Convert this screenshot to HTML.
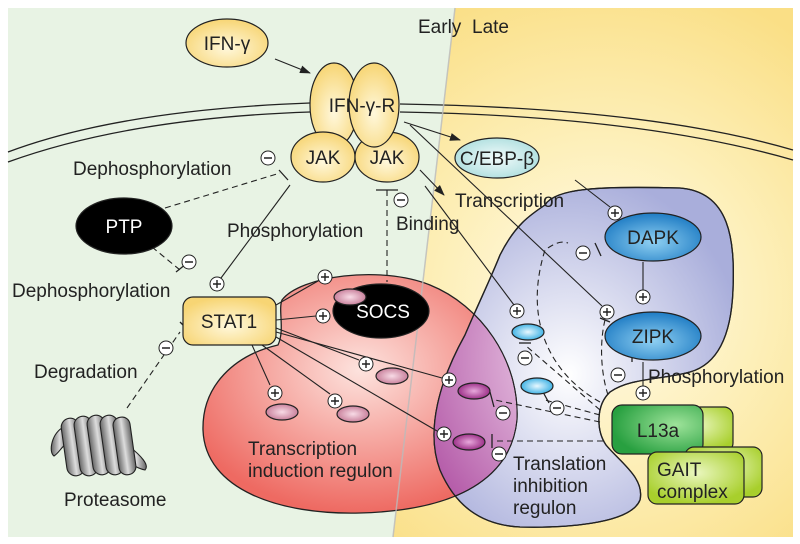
<!DOCTYPE html>
<html><head><meta charset="utf-8"><style>
body{margin:0;background:#fff}
svg{display:block;font-family:"Liberation Sans",sans-serif}
</style></head><body>
<svg width="800" height="544" viewBox="0 0 800 544" xmlns="http://www.w3.org/2000/svg">
<defs>
<radialGradient id="yel" cx="600" cy="300" r="330" gradientUnits="userSpaceOnUse"><stop offset="0" stop-color="#fffcec"/><stop offset="0.5" stop-color="#fdefb8"/><stop offset="1" stop-color="#fadf86"/></radialGradient>
<radialGradient id="red" cx="0.5" cy="0.4" r="0.6"><stop offset="0" stop-color="#fde3de"/><stop offset="1" stop-color="#ee6a62"/></radialGradient>
<radialGradient id="pur" cx="0.45" cy="0.55" r="0.6"><stop offset="0" stop-color="#ffffff"/><stop offset="1" stop-color="#a9aedb"/></radialGradient>
<radialGradient id="mag" cx="0.5" cy="0.5" r="0.6"><stop offset="0" stop-color="#f6e2f3"/><stop offset="1" stop-color="#b45aa8"/></radialGradient>
<radialGradient id="yel2" cx="0.5" cy="0.6" r="0.6"><stop offset="0" stop-color="#fff8dc"/><stop offset="1" stop-color="#f7d574"/></radialGradient>
<radialGradient id="blue" cx="0.5" cy="0.6" r="0.6"><stop offset="0" stop-color="#8fd0f2"/><stop offset="1" stop-color="#1f7cc4"/></radialGradient>
<radialGradient id="cyan" cx="0.5" cy="0.5" r="0.6"><stop offset="0" stop-color="#e8f8ff"/><stop offset="1" stop-color="#22a6e0"/></radialGradient>
<radialGradient id="pink" cx="0.5" cy="0.5" r="0.6"><stop offset="0" stop-color="#f8dbe6"/><stop offset="1" stop-color="#c0708e"/></radialGradient>
<radialGradient id="dmag" cx="0.5" cy="0.5" r="0.6"><stop offset="0" stop-color="#e8a8dc"/><stop offset="1" stop-color="#8e1a78"/></radialGradient>
<radialGradient id="teal" cx="0.5" cy="0.5" r="0.6"><stop offset="0" stop-color="#f2fbfb"/><stop offset="1" stop-color="#a8dcdc"/></radialGradient>
<radialGradient id="grn" cx="0.7" cy="0.4" r="0.7"><stop offset="0" stop-color="#9ee39a"/><stop offset="1" stop-color="#28a040"/></radialGradient>
<radialGradient id="lg" cx="0.5" cy="0.4" r="0.6"><stop offset="0" stop-color="#eaf7c0"/><stop offset="1" stop-color="#a8cf2c"/></radialGradient>
<linearGradient id="gray" x1="0" x2="1"><stop offset="0" stop-color="#666"/><stop offset="0.5" stop-color="#ddd"/><stop offset="1" stop-color="#666"/></linearGradient>
<marker id="ar" markerWidth="11" markerHeight="8" refX="10" refY="4" orient="auto" markerUnits="userSpaceOnUse"><path d="M0,0 L11,4 L0,8 z" fill="#222"/></marker>
<path id="redp" d="M282,300 C300,276 380,265 430,285 C480,305 520,360 517,420 C512,470 470,510 360,513 C280,515 205,490 203,430 C202,385 235,355 278,345 C285,330 278,310 282,300 Z"/>
<path id="purp" d="M545,205 C555,188 600,186 680,188 C730,192 735,240 733,290 C731,340 715,365 690,372 C660,380 630,378 610,392 C596,405 596,430 606,445 C620,462 645,478 640,500 C630,525 560,528 520,527 C480,525 455,505 440,470 C425,430 440,380 465,335 C480,300 490,280 500,255 C515,225 530,215 545,205 Z"/>
<clipPath id="rc"><use href="#redp"/></clipPath>
</defs>
<rect x="8" y="8" width="785" height="529" fill="#e8f3e4"/>
<path d="M455,8 L793,8 L793,537 L393,537 Z" fill="url(#yel)"/>
<g fill="none" stroke="#222" stroke-width="1.3">
<path d="M8,152 Q120,110 310,103"/><path d="M8,162 Q130,118 310,112"/>
<path d="M400,104 Q650,108 793,150"/><path d="M400,112 Q640,116 793,160"/>
</g>
<use href="#redp" fill="url(#red)" stroke="#222" stroke-width="1.3"/>
<use href="#purp" fill="url(#pur)" stroke="#222" stroke-width="1.3"/>
<use href="#purp" fill="url(#mag)" clip-path="url(#rc)"/>
<use href="#redp" fill="none" stroke="#222" stroke-width="1.1" clip-path="url(#pc)"/>
<clipPath id="pc"><use href="#purp"/></clipPath>
<use href="#redp" fill="none" stroke="#222" stroke-width="1.1" clip-path="url(#pc)"/>
<use href="#purp" fill="none" stroke="#222" stroke-width="1.3"/>
<line x1="455" y1="8" x2="393" y2="537" stroke="#bbb" stroke-width="1.5" opacity="0.8"/>
<g stroke="#222" stroke-width="1.1" fill="none">
<line x1="275" y1="59" x2="310" y2="73" marker-end="url(#ar)"/>
<line x1="404" y1="122" x2="460" y2="140" marker-end="url(#ar)"/>
<line x1="420" y1="170" x2="444" y2="195" marker-end="url(#ar)"/>
<line x1="410" y1="125" x2="602" y2="306"/>
<line x1="425" y1="186" x2="514" y2="305"/>
<line x1="575" y1="180" x2="610" y2="207"/>
<line x1="643" y1="262" x2="643" y2="290"/>
<line x1="643" y1="362" x2="643" y2="386"/>
<line x1="290" y1="185" x2="221" y2="278"/>
<line x1="276" y1="305" x2="318" y2="281"/>
<line x1="276" y1="320" x2="316" y2="316"/>
<line x1="276" y1="328" x2="359" y2="360"/>
<line x1="276" y1="332" x2="442" y2="378"/>
<line x1="276" y1="337" x2="437" y2="431"/>
<line x1="262" y1="345" x2="330" y2="394"/>
<line x1="252" y1="345" x2="270" y2="385"/>
</g>
<g stroke="#222" stroke-width="1.1" fill="none" stroke-dasharray="6,4">
<line x1="165" y1="208" x2="280" y2="173"/>
<line x1="152" y1="247" x2="180" y2="270"/>
<line x1="127" y1="408" x2="180" y2="332"/>
<line x1="387" y1="190" x2="387" y2="282"/>
<path d="M600,402 C560,380 520,330 545,250 C552,245 560,240 568,243"/>
<path d="M608,395 C600,370 600,340 605,320"/>
<line x1="600" y1="410" x2="525" y2="345"/>
<line x1="600" y1="415" x2="545" y2="400"/>
<line x1="600" y1="422" x2="495" y2="400"/>
<line x1="603" y1="441" x2="495" y2="441"/>
</g>
<g stroke="#222" stroke-width="1.3">
<line x1="279" y1="170" x2="288" y2="180"/><line x1="376" y1="190" x2="398" y2="190"/>
<line x1="176" y1="272" x2="186" y2="264"/><line x1="180" y1="322" x2="188" y2="330"/>
<line x1="595" y1="243" x2="601" y2="256"/><line x1="600" y1="318" x2="610" y2="322"/>
<line x1="519" y1="343" x2="531" y2="343"/><line x1="543" y1="392" x2="549" y2="403"/>
<line x1="490" y1="392" x2="494" y2="407"/><line x1="492" y1="434" x2="492" y2="448"/>
<line x1="632" y1="350" x2="632" y2="362"/>
</g>
<g stroke="#222" stroke-width="1.2">
<ellipse cx="227" cy="43" rx="41" ry="24" fill="url(#yel2)"/>
<ellipse cx="334" cy="105" rx="24" ry="42" fill="url(#yel2)"/>
<ellipse cx="323" cy="157" rx="32" ry="25" fill="url(#yel2)"/>
<ellipse cx="387" cy="157" rx="32" ry="25" fill="url(#yel2)"/>
<ellipse cx="374" cy="105" rx="25" ry="42" fill="url(#yel2)"/>
<ellipse cx="497" cy="158" rx="42" ry="20" fill="url(#teal)"/>
<ellipse cx="124" cy="226" rx="48" ry="28" fill="#000"/>
<ellipse cx="381" cy="311" rx="48" ry="27" fill="#000"/>
<rect x="183" y="297" width="93" height="48" rx="10" fill="url(#yel2)"/>
<ellipse cx="653" cy="237" rx="48" ry="24" fill="url(#blue)"/>
<ellipse cx="653" cy="336" rx="48" ry="24" fill="url(#blue)"/>
<ellipse cx="350" cy="297" rx="16" ry="8" fill="url(#pink)"/>
<ellipse cx="392" cy="376" rx="16" ry="8" fill="url(#pink)"/>
<ellipse cx="282" cy="412" rx="16" ry="8" fill="url(#pink)"/>
<ellipse cx="353" cy="414" rx="16" ry="8" fill="url(#pink)"/>
<ellipse cx="474" cy="391" rx="16" ry="8" fill="url(#dmag)"/>
<ellipse cx="469" cy="442" rx="16" ry="8" fill="url(#dmag)"/>
<ellipse cx="528" cy="332" rx="16" ry="8" fill="url(#cyan)"/>
<ellipse cx="537" cy="386" rx="16" ry="8" fill="url(#cyan)"/>
<rect x="660" y="407" width="73" height="45" rx="9" fill="url(#lg)"/>
<rect x="612" y="405" width="91" height="49" rx="10" fill="url(#grn)"/>
<rect x="685" y="447" width="77" height="50" rx="9" fill="url(#lg)"/>
<rect x="648" y="452" width="96" height="52" rx="9" fill="url(#lg)"/>
</g>
<g stroke="#222" stroke-width="1.1" fill="url(#gray)">
<path d="M64,427 C52,432 48,452 54,456 C60,452 62,445 68,444 Z"/>
<path d="M130,447 C140,455 150,465 145,470 C135,468 130,462 126,462 Z"/>
<rect x="64" y="418" width="18" height="58" rx="9" transform="rotate(-8 73 447)"/>
<rect x="77" y="416" width="18" height="60" rx="9" transform="rotate(-8 86 446)"/>
<rect x="90" y="415" width="18" height="60" rx="9" transform="rotate(-8 99 445)"/>
<rect x="103" y="415" width="18" height="60" rx="9" transform="rotate(-8 112 445)"/>
<rect x="116" y="417" width="17" height="58" rx="8" transform="rotate(-8 124 446)"/>
</g>
<g font-size="19" fill="#222">
<text x="227" y="50" text-anchor="middle">IFN-γ</text>
<text x="362" y="112" text-anchor="middle">IFN-γ-R</text>
<text x="323" y="164" text-anchor="middle">JAK</text>
<text x="387" y="164" text-anchor="middle">JAK</text>
<text x="497" y="165" text-anchor="middle">C/EBP-β</text>
<text x="124" y="233" text-anchor="middle" fill="#fff">PTP</text>
<text x="383" y="318" text-anchor="middle" fill="#fff">SOCS</text>
<text x="229" y="328" text-anchor="middle">STAT1</text>
<text x="653" y="244" text-anchor="middle">DAPK</text>
<text x="653" y="343" text-anchor="middle">ZIPK</text>
<text x="658" y="437" text-anchor="middle">L13a</text>
<text x="657" y="476">GAIT</text>
<text x="657" y="498">complex</text>
<text x="418" y="33">Early</text>
<text x="472" y="33">Late</text>
<text x="73" y="175">Dephosphorylation</text>
<text x="227" y="237">Phosphorylation</text>
<text x="12" y="297">Dephosphorylation</text>
<text x="34" y="378">Degradation</text>
<text x="64" y="506">Proteasome</text>
<text x="455" y="207">Transcription</text>
<text x="396" y="230">Binding</text>
<text x="648" y="383">Phosphorylation</text>
<text x="248" y="455">Transcription</text>
<text x="248" y="477">induction regulon</text>
<text x="513" y="470">Translation</text>
<text x="513" y="492">inhibition</text>
<text x="513" y="514">regulon</text>
</g>
<g stroke="#222" stroke-width="1" fill="#fff">
<circle cx="268" cy="158" r="7"/><circle cx="401" cy="200" r="7"/><circle cx="189" cy="262" r="7"/><circle cx="217" cy="284" r="7"/><circle cx="166" cy="348" r="7"/>
<circle cx="325" cy="277" r="7"/><circle cx="323" cy="316" r="7"/><circle cx="366" cy="364" r="7"/><circle cx="275" cy="393" r="7"/><circle cx="335" cy="401" r="7"/><circle cx="449" cy="380" r="7"/><circle cx="444" cy="434" r="7"/>
<circle cx="517" cy="311" r="7"/><circle cx="525" cy="358" r="7"/><circle cx="557" cy="408" r="7"/><circle cx="503" cy="413" r="7"/><circle cx="499" cy="454" r="7"/>
<circle cx="615" cy="213" r="7"/><circle cx="643" cy="297" r="7"/><circle cx="607" cy="312" r="7"/><circle cx="583" cy="253" r="7"/><circle cx="618" cy="375" r="7"/><circle cx="643" cy="393" r="7"/>
</g>
<g stroke="#222" stroke-width="1.4" fill="none">
<path d="M264,158h8M397,200h8M185,262h8M162,348h8M521,358h8M553,408h8M499,413h8M495,454h8M579,253h8M614,375h8"/>
<path d="M213,284h8M217,280v8M321,277h8M325,273v8M319,316h8M323,312v8M362,364h8M366,360v8M271,393h8M275,389v8M331,401h8M335,397v8M445,380h8M449,376v8M440,434h8M444,430v8M513,311h8M517,307v8M611,213h8M615,209v8M639,297h8M643,293v8M603,312h8M607,308v8M639,393h8M643,389v8"/>
</g>
</svg>
</body></html>
